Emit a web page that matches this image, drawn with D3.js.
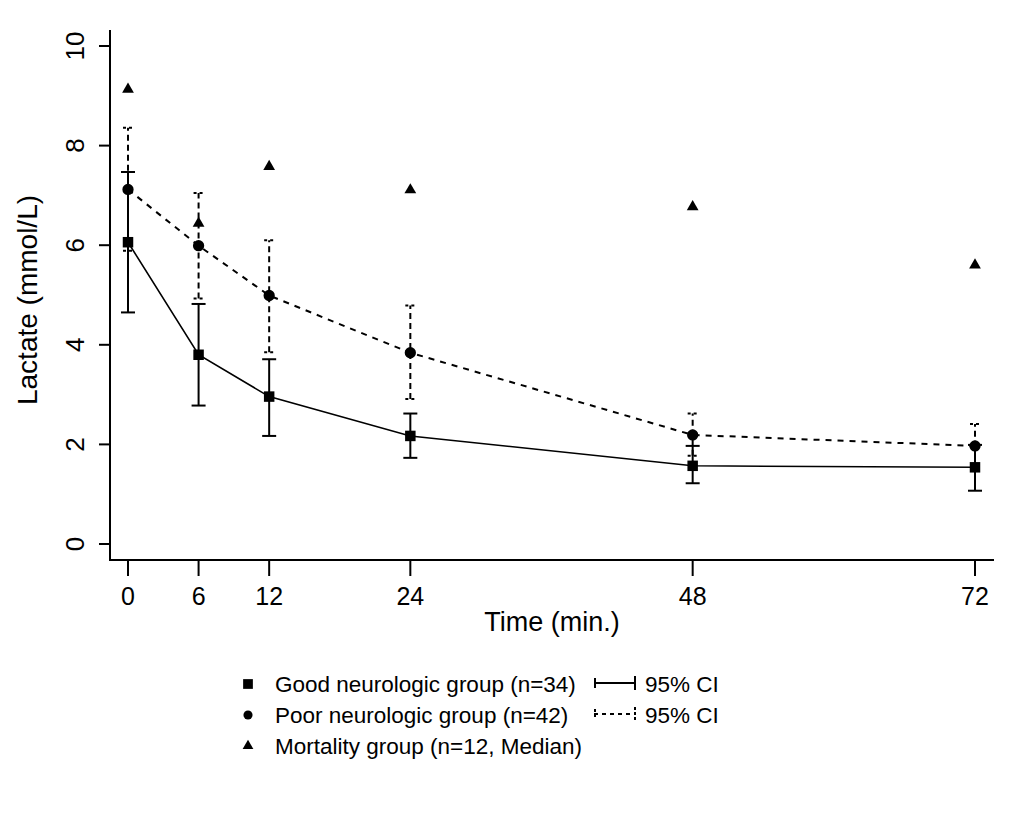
<!DOCTYPE html>
<html><head><meta charset="utf-8">
<script src="https://cdn.jsdelivr.net/npm/d3@7"></script>
<style>body{margin:0;background:#fff}svg{display:block}</style>
</head><body>
<svg id="c" width="1023" height="819"></svg>
<script>
const times = [0, 6, 12, 24, 48, 72];
const goodMean = [6.06, 3.80, 2.96, 2.17, 1.57, 1.54];
const goodLow  = [4.65, 2.78, 2.17, 1.73, 1.22, 1.07];
const goodHigh = [7.47, 4.82, 3.71, 2.62, 1.97, 1.99];
const poorMean = [7.12, 5.99, 4.99, 3.84, 2.19, 1.97];
const poorLow  = [5.89, 4.93, 3.85, 2.91, 1.77, 1.55];
const poorHigh = [8.36, 7.05, 6.10, 4.79, 2.62, 2.41];
const mortMedian = [9.13, 6.44, 7.58, 7.11, 6.77, 5.60];
const yTicks = [0, 2, 4, 6, 8, 10];
const legendLabels = ["Good neurologic group (n=34)", "Poor neurologic group (n=42)", "Mortality group (n=12, Median)"];
const ciLabel = "95% CI";

const svg = d3.select("#c");
const x = d3.scaleLinear().domain([0, 72]).range([128, 975]);
const y = d3.scaleLinear().domain([0, 10]).range([544, 46]);
const sans = "'Liberation Sans',Arial,sans-serif";

// axes lines
svg.append("line").attr("x1",110).attr("x2",110).attr("y1",30).attr("y2",561).attr("stroke","#000").attr("stroke-width",2);
svg.append("line").attr("x1",109).attr("x2",994).attr("y1",560).attr("y2",560).attr("stroke","#000").attr("stroke-width",2);

// y ticks
const yg = svg.append("g");
yTicks.forEach(t=>{
  yg.append("line").attr("x1",99).attr("x2",110).attr("y1",y(t)).attr("y2",y(t)).attr("stroke","#000").attr("stroke-width",2);
  yg.append("text").attr("transform",`translate(84,${y(t)}) rotate(-90)`).attr("text-anchor","middle")
    .attr("font-family",sans).attr("font-size",26).text(t);
});
svg.append("text").attr("transform",`translate(37,300) rotate(-90)`).attr("text-anchor","middle")
  .attr("font-family",sans).attr("font-size",28).text("Lactate (mmol/L)");

// x ticks
times.forEach(t=>{
  svg.append("line").attr("x1",x(t)).attr("x2",x(t)).attr("y1",560).attr("y2",576).attr("stroke","#000").attr("stroke-width",2);
  svg.append("text").attr("x",x(t)).attr("y",605).attr("text-anchor","middle")
    .attr("font-family",sans).attr("font-size",25).text(t);
});
svg.append("text").attr("x",552).attr("y",631).attr("text-anchor","middle")
  .attr("font-family",sans).attr("font-size",27).text("Time (min.)");

const line = d3.line().x(d=>x(d[0])).y(d=>y(d[1]));

// poor CI (dashed)
times.forEach((t,i)=>{
  svg.append("line").attr("x1",x(t)).attr("x2",x(t)).attr("y1",y(poorLow[i])).attr("y2",y(poorHigh[i]))
    .attr("stroke","#000").attr("stroke-width",2).attr("stroke-dasharray","6,4");
  [poorLow[i],poorHigh[i]].forEach(v=>{
    svg.append("line").attr("x1",x(t)-5).attr("x2",x(t)+5).attr("y1",y(v)).attr("y2",y(v))
      .attr("stroke","#000").attr("stroke-width",2).attr("stroke-dasharray","3,3");
  });
});
// good CI (solid)
times.forEach((t,i)=>{
  svg.append("line").attr("x1",x(t)).attr("x2",x(t)).attr("y1",y(goodLow[i])).attr("y2",y(goodHigh[i]))
    .attr("stroke","#000").attr("stroke-width",2);
  [goodLow[i],goodHigh[i]].forEach(v=>{
    svg.append("line").attr("x1",x(t)-7).attr("x2",x(t)+7).attr("y1",y(v)).attr("y2",y(v))
      .attr("stroke","#000").attr("stroke-width",2);
  });
});

// lines
svg.append("path").attr("d",line(times.map((t,i)=>[t,poorMean[i]]))).attr("fill","none")
  .attr("stroke","#000").attr("stroke-width",2).attr("stroke-dasharray","6,6");
svg.append("path").attr("d",line(times.map((t,i)=>[t,goodMean[i]]))).attr("fill","none")
  .attr("stroke","#000").attr("stroke-width",1.6);

// markers
const sq = d3.symbol().type(d3.symbolSquare).size(110);
const ci = d3.symbol().type(d3.symbolCircle).size(100);
const tr = d3.symbol().type(d3.symbolTriangle).size(60);
times.forEach((t,i)=>{
  svg.append("path").attr("d",sq()).attr("transform",`translate(${x(t)},${y(goodMean[i])})`).attr("fill","#000");
  svg.append("path").attr("d",ci()).attr("transform",`translate(${x(t)},${y(poorMean[i])})`).attr("fill","#000");
  svg.append("path").attr("d",tr()).attr("transform",`translate(${x(t)},${y(mortMedian[i])})`).attr("fill","#000");
});

// legend
const lg = svg.append("g");
const rows = [684, 715, 746];
const lsq = d3.symbol().type(d3.symbolSquare).size(95);
const lci = d3.symbol().type(d3.symbolCircle).size(65);
const ltr = d3.symbol().type(d3.symbolTriangle).size(50);
[lsq, lci, ltr].forEach((s,i)=>{
  lg.append("path").attr("d",s()).attr("transform",`translate(248,${rows[i]})`).attr("fill","#000");
  lg.append("text").attr("x",275).attr("y",rows[i]+8).attr("font-family",sans).attr("font-size",22.5).text(legendLabels[i]);
});
// CI legend solid
lg.append("line").attr("x1",594).attr("x2",635).attr("y1",683).attr("y2",683).attr("stroke","#000").attr("stroke-width",2);
lg.append("line").attr("x1",595).attr("x2",595).attr("y1",678).attr("y2",688).attr("stroke","#000").attr("stroke-width",2);
lg.append("line").attr("x1",635).attr("x2",635).attr("y1",676).attr("y2",690).attr("stroke","#000").attr("stroke-width",2);
lg.append("text").attr("x",645).attr("y",692).attr("font-family",sans).attr("font-size",22.5).text(ciLabel);
// CI legend dashed
lg.append("line").attr("x1",594).attr("x2",635).attr("y1",714).attr("y2",714).attr("stroke","#000").attr("stroke-width",2).attr("stroke-dasharray","4,4");
lg.append("line").attr("x1",595).attr("x2",595).attr("y1",709).attr("y2",719).attr("stroke","#000").attr("stroke-width",2).attr("stroke-dasharray","3,2");
lg.append("line").attr("x1",635).attr("x2",635).attr("y1",707).attr("y2",721).attr("stroke","#000").attr("stroke-width",2).attr("stroke-dasharray","3,2");
lg.append("text").attr("x",645).attr("y",723).attr("font-family",sans).attr("font-size",22.5).text(ciLabel);
</script>
</body></html>
